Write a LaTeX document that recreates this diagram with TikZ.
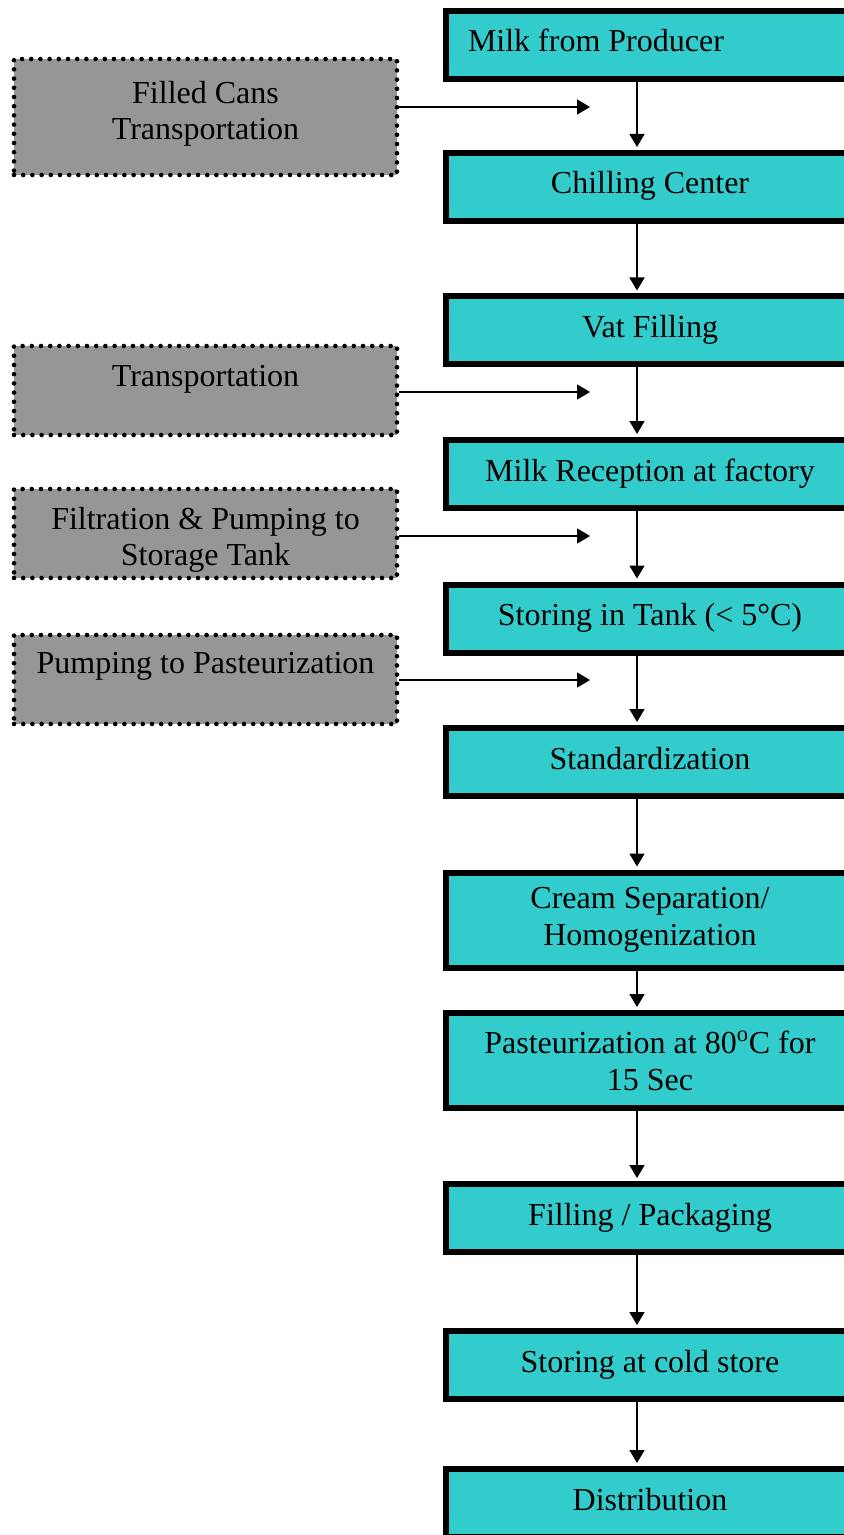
\documentclass[tikz,border=0pt]{standalone}
\usepackage{fontspec}
\setmainfont{Liberation Serif}
\usepackage{xcolor}
\usetikzlibrary{arrows.meta, positioning, calc}
\definecolor{stagecolor}{RGB}{51,204,204}
\definecolor{sidecolor}{RGB}{150,150,150}

\begin{document}
\begin{tikzpicture}[
    x=0.5pt, y=-0.5pt,
    font=\fontsize{16}{18.3}\selectfont,
    box/.style={draw, line width=3pt, fill=stagecolor, minimum width=204pt, minimum height=34pt, align=center, inner sep=0pt},
    oneline/.style={box, text height=11pt, text depth=4pt},
    twoline/.style={box, minimum height=47.5pt},
    side/.style={draw, fill=sidecolor, line width=2.3pt, dash pattern=on 0pt off 4.6pt, line cap=round, minimum width=191.5pt, minimum height=44.5pt},
    sidetext/.style={align=center, inner sep=0pt},
    arrow/.style={-{Triangle[length=6.5pt, width=7.5pt]}, line width=0.8pt}
]
    \useasboundingbox (0,0) rectangle (844,1535);
    \clip (0,0) rectangle (844,1535);

    % main process chain
    \node[oneline, align=flush left, text width=182pt, inner xsep=11pt] (milk) at (650,45) {Milk from Producer};
    \node[oneline] (chill) at (650,187) {Chilling Center};
    \node[oneline] (vat) at (650,330.5) {Vat Filling};
    \node[oneline] (recep) at (650,474) {Milk Reception at factory};
    \node[oneline] (tank) at (650,618.5) {Storing in Tank (< 5°C)};
    \node[oneline] (std) at (650,762) {Standardization};
    \node[twoline] (cream) at (650,920) {Cream Separation/\\Homogenization};
    \node[twoline] (past) at (650,1060.5) {Pasteurization at 80\textsuperscript{o}C for\\15 Sec};
    \node[oneline] (fill) at (650,1218) {Filling / Packaging};
    \node[oneline] (cold) at (650,1365) {Storing at cold store};
    \node[oneline] (dist) at (650,1503) {Distribution};

    % side operations
    \node[side, minimum height=58pt] (cans) at (205.5,117) {};
    \node[sidetext] (canstext) at (205.5,114) {Filled Cans\\Transportation};
    \node[side] (trans) at (205.5,390.5) {};
    \node[sidetext] (transtext) at (205.5,379) {Transportation};
    \node[side] (filt) at (205.5,533.5) {};
    \node[sidetext] (filttext) at (205.5,540) {Filtration \& Pumping to\\Storage Tank};
    \node[side] (pump) at (205.5,679.5) {};
    \node[sidetext] (pumptext) at (205.5,666) {Pumping to Pasteurization};

    \coordinate (spine) at (637,0);
    \draw[arrow, shorten >=1.5pt] (milk.south -| spine) -- (chill.north -| spine);
    \draw[arrow, shorten >=1.5pt] (chill.south -| spine) -- (vat.north -| spine);
    \draw[arrow, shorten >=1.5pt] (vat.south -| spine) -- (recep.north -| spine);
    \draw[arrow, shorten >=1.5pt] (recep.south -| spine) -- (tank.north -| spine);
    \draw[arrow, shorten >=1.5pt] (tank.south -| spine) -- (std.north -| spine);
    \draw[arrow, shorten >=1.5pt] (std.south -| spine) -- (cream.north -| spine);
    \draw[arrow, shorten >=1.5pt] (cream.south -| spine) -- (past.north -| spine);
    \draw[arrow, shorten >=1.5pt] (past.south -| spine) -- (fill.north -| spine);
    \draw[arrow, shorten >=1.5pt] (fill.south -| spine) -- (cold.north -| spine);
    \draw[arrow, shorten >=1.5pt] (cold.south -| spine) -- (dist.north -| spine);

    \coordinate (cansin) at (590,107);
    \coordinate (transin) at (590,392);
    \coordinate (filtin) at (590,536);
    \coordinate (pumpin) at (590,680);
    \draw[arrow] (cans.east |- cansin) -- (cansin);
    \draw[arrow] (trans.east |- transin) -- (transin);
    \draw[arrow] (filt.east |- filtin) -- (filtin);
    \draw[arrow] (pump.east |- pumpin) -- (pumpin);
\end{tikzpicture}
\end{document}
